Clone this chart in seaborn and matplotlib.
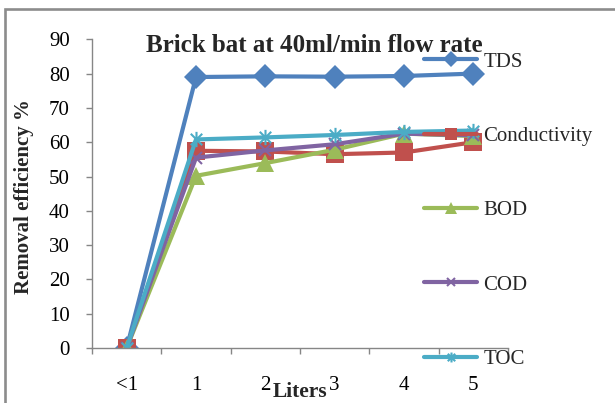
import matplotlib
matplotlib.use("Agg")
import matplotlib.pyplot as plt
from matplotlib.path import Path
from matplotlib.patches import Rectangle
import seaborn as sns
import pandas as pd

# Volume of water passed through the filter
liters = ["<1", "1", "2", "3", "4", "5"]

# Removal efficiency (%) for each parameter
tds = [0, 79.0, 79.2, 79.1, 79.3, 80.0]
conductivity = [0, 57.5, 57.3, 56.5, 57.0, 60.0]
bod = [0, 50.2, 53.9, 57.8, 62.5, 61.8]
cod = [0, 55.5, 57.6, 59.4, 62.5, 62.0]
toc = [0, 60.8, 61.4, 62.1, 63.0, 63.4]

series_names = ["TDS", "Conductivity", "BOD", "COD", "TOC"]
series_values = [tds, conductivity, bod, cod, toc]

df = pd.DataFrame({"Liters": liters})
for name, vals in zip(series_names, series_values):
    df[name] = vals

sns.set_theme(style="white")
plt.rcParams["font.family"] = ["Liberation Serif", "DejaVu Serif"]

# Excel-style asterisk: vertical bar crossed by an X
star = Path(
    [(0, -1), (0, 1), (-0.75, -0.75), (0.75, 0.75), (-0.75, 0.75), (0.75, -0.75)],
    [Path.MOVETO, Path.LINETO, Path.MOVETO, Path.LINETO, Path.MOVETO, Path.LINETO],
)

styles = {
    "TDS": dict(color="#4F81BD", marker="D", markersize=12.5, mew=0),
    "Conductivity": dict(color="#C0504D", marker="s", markersize=12.5, mew=0),
    "BOD": dict(color="#9BBB59", marker="^", markersize=13, mew=0),
    "COD": dict(color="#8064A2", marker="x", markersize=9, mew=1.5),
    "TOC": dict(color="#4BACC6", marker=star, markersize=11, mew=1.5),
}

W, H = 615, 403
fig = plt.figure(figsize=(W / 100, H / 100), dpi=100)
ax = fig.add_axes([92 / W, 1 - 348 / H, (508 - 92) / W, (348 - 39.3) / H])

for name in series_names:
    st = styles[name]
    sns.lineplot(
        data=df, x="Liters", y=name, ax=ax, sort=False, lw=3,
        color=st["color"], marker=st["marker"], markersize=st["markersize"],
        markeredgewidth=st["mew"], markeredgecolor=st["color"], label=name,
    )

ax.set_ylim(0, 90)
ax.set_xlim(-0.5, len(liters) - 0.5)
ax.set_yticks(range(0, 91, 10))
ax.tick_params(axis="y", which="major", direction="out", length=4, width=1,
               color="#868686", left=True, labelsize=15, pad=12, labelcolor="black")
ax.set_xticks(range(len(liters)))
ax.set_xticklabels(liters)
ax.set_xticks([i - 0.5 for i in range(len(liters) + 1)], minor=True)
ax.tick_params(axis="x", which="major", length=0, labelsize=15, pad=20, labelcolor="black")
ax.tick_params(axis="x", which="minor", direction="out", length=4.5, width=1,
               color="#868686", bottom=True)
for side in ["top", "right"]:
    ax.spines[side].set_visible(False)
for side in ["left", "bottom"]:
    ax.spines[side].set_color("#868686")
    ax.spines[side].set_linewidth(1)
ax.grid(False)

ax.set_ylabel("Removal efficiency %", fontsize=15, fontweight="bold", va="center")
ax.yaxis.set_label_coords((23.5 - 92) / 416, (348 - 197) / 308.7)
ax.set_xlabel("Liters", fontsize=15.5, fontweight="bold", va="center")
ax.xaxis.set_label_coords(0.5, (348 - 392) / 308.7)

fig.text(314 / W, 1 - 45 / H, "Brick bat at 40ml/min flow rate",
         ha="center", va="center", fontsize=18, fontweight="bold")

handles, labels = ax.get_legend_handles_labels()
ax.get_legend().remove()
leg = fig.legend(handles, labels, loc="upper left",
                 bbox_to_anchor=(424 / W, 1 - 52 / H), frameon=False,
                 fontsize=15, labelspacing=2.63, handlelength=2.55,
                 handletextpad=0.29, borderpad=0, borderaxespad=0, markerscale=0.65)

# Chart-area border
fig.patches.append(Rectangle((5 / W, -0.1), 1.2, 1.1 - 9 / H,
                             transform=fig.transFigure, fill=False,
                             edgecolor="#8c8c8c", lw=1.9))

fig.savefig("out.png", dpi=100)
